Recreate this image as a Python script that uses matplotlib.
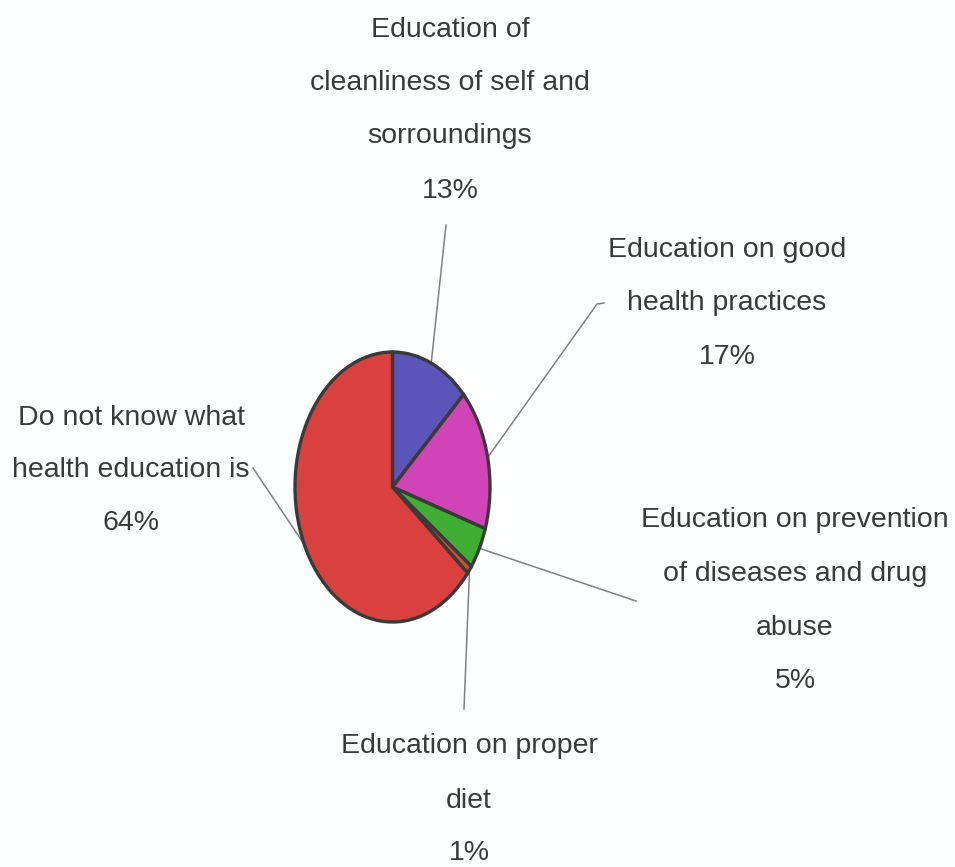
import numpy as np
import matplotlib
matplotlib.use("Agg")
import matplotlib.pyplot as plt

# ---- data ----
categories = [
    "Education of\ncleanliness of self and\nsorroundings",
    "Education on good\nhealth practices",
    "Education on prevention\nof diseases and drug\nabuse",
    "Education on proper\ndiet",
    "Do not know what\nhealth education is",
]
values = [13, 17, 5, 1, 64]
pct_labels = ["13%", "17%", "5%", "1%", "64%"]
colors = ["#5b55b9", "#d044b8", "#3fae33", "#c4522e", "#d9403e"]

W, H = 955, 867
fig = plt.figure(figsize=(W / 100, H / 100), dpi=100)
fig.patch.set_facecolor("#fdfefe")

# pie axes placed over the ellipse bounding box (pixels, from top)
px_l, px_r, px_t, px_b = 295, 490, 352, 622
ax = fig.add_axes([px_l / W, 1 - px_b / H, (px_r - px_l) / W, (px_b - px_t) / H])
wedges, _ = ax.pie(values, startangle=90, counterclock=False, colors=colors,
                   wedgeprops=dict(edgecolor="#3a3a3a", linewidth=2.4))
ax.set_aspect("auto")
ax.set_xlim(-1, 1)
ax.set_ylim(-1, 1)
ax.axis("off")

font = ["Liberation Sans", "DejaVu Sans"]
txt_color = "#3a3a3a"
fs = 20.5

# label layout: center x, baselines (image pixels from top), leader end points
layout = [
    dict(x=450, ys=[37, 90, 143, 198], end=[(446, 225)]),
    dict(x=727, ys=[257, 310, 364], end=[(597, 304), (604, 303)]),
    dict(x=795, ys=[527, 581, 635, 688], end=[(636, 601)]),
    dict(x=469, ys=[753, 808, 860], end=[(464, 709)]),
    dict(x=131, ys=[425, 477, 530], end=[(253, 468)]),
]

for cat, pct, lay in zip(categories, pct_labels, layout):
    lines = cat.split("\n") + [pct]
    for line, y in zip(lines, lay["ys"]):
        fig.text(lay["x"] / W, 1 - y / H, line, ha="center", va="baseline",
                 fontsize=fs, color=txt_color, family=font)

# leader lines from wedge mid-angle on the edge to label
to_data = ax.transData.inverted()
for w, lay in zip(wedges, layout):
    mid = np.deg2rad((w.theta1 + w.theta2) / 2)
    pts = [(np.cos(mid), np.sin(mid))]
    for (xp, yp) in lay["end"]:
        pts.append(tuple(to_data.transform((xp, H - yp))))
    pts = np.array(pts)
    ax.plot(pts[:, 0], pts[:, 1], color="#808080", lw=1.1, clip_on=False, zorder=0)

fig.savefig("out.png", dpi=100, facecolor=fig.get_facecolor())
